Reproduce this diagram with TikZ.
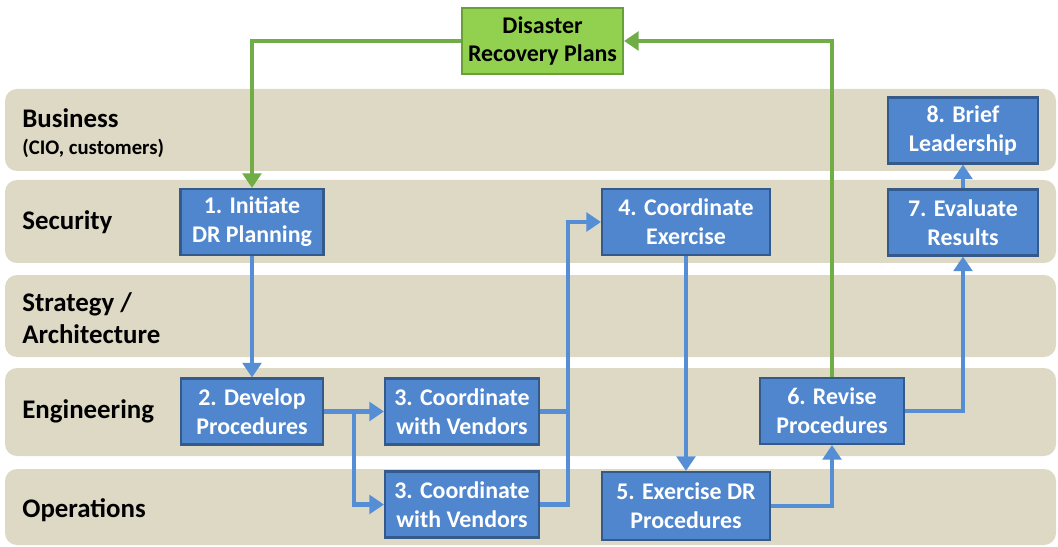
\documentclass[tikz,border=0pt]{standalone}
\usepackage{fontspec}
\setmainfont{Carlito}
\usetikzlibrary{arrows.meta}

\definecolor{lanefill}{RGB}{221,217,196}
\definecolor{stepblue}{RGB}{79,134,206}
\definecolor{stepedge}{RGB}{52,90,140}
\definecolor{flowblue}{RGB}{85,142,213}
\definecolor{planfill}{RGB}{146,208,80}
\definecolor{planedge}{RGB}{104,160,55}
\definecolor{flowgreen}{RGB}{112,173,71}

\begin{document}
\begin{tikzpicture}[x=0.02cm, y=-0.02cm,
    lane/.style = {fill=lanefill, rounded corners=0.24cm},
    lbl/.style = {anchor=west, align=left, inner sep=0pt, font=\bfseries\fontsize{15.3}{18}\selectfont},
    main/.style = {draw=stepedge, line width=1.2pt, fill=stepblue, text=white, align=center,
                   minimum height=1.32cm, inner sep=0pt, font=\bfseries\fontsize{13.6}{16.4}\selectfont},
    plan/.style = {main, draw=planedge, fill=planfill, text=black},
    link/.style = {draw=flowblue, line width=2.3pt, -{Triangle[width=0.37cm,length=0.29cm]}},
    back/.style = {link, draw=flowgreen}]
    \useasboundingbox[fill=white] (0,0) rectangle (1058,547);

    \fill[lane] (5,89)  rectangle (1056,171);
    \fill[lane] (5,180) rectangle (1056,263);
    \fill[lane] (5,275) rectangle (1056,357);
    \fill[lane] (5,368) rectangle (1056,456);
    \fill[lane] (5,469) rectangle (1056,545);

    \node[lbl] (business)    at (22,133) {Business\\[-2.5pt]{\fontsize{11.8}{14}\selectfont(CIO, customers)}};
    \node[lbl] (security)    at (22,222) {Security};
    \node[lbl] (strategy)    at (22,318) {Strategy /\\Architecture};
    \node[lbl] (engineering) at (22,411) {Engineering};
    \node[lbl] (operations)  at (22,510) {Operations};

    \node[plan, minimum width=3.22cm] (drp) at (542.5,41) {Disaster\\Recovery Plans};
    \node[main, minimum width=2.86cm] (1)  at (252,222) {1. Initiate\\DR Planning};
    \node[main, minimum width=2.84cm] (2)  at (252,411.5) {2. Develop\\Procedures};
    \node[main, minimum width=3.08cm] (3a) at (462,411.5) {3. Coordinate\\with Vendors};
    \node[main, minimum width=3.08cm] (3b) at (462,504.5) {3. Coordinate\\with Vendors};
    \node[main, minimum width=3.36cm] (4)  at (686,222) {4. Coordinate\\Exercise};
    \node[main, minimum width=3.36cm, minimum height=1.36cm] (5) at (686,506) {5. Exercise DR\\Procedures};
    \node[main, minimum width=2.88cm] (6)  at (832,411) {6. Revise\\Procedures};
    \node[main, minimum width=3.0cm]  (7)  at (963,222.5) {7. Evaluate\\Results};
    \node[main, minimum width=3.0cm]  (8)  at (963,130.5) {8. Brief\\Leadership};

    \coordinate (split) at (354,411.5);
    \coordinate (join)  at (568,222);

    \draw[back] (drp.west) -| (1.north);
    \draw[back] (6.north) |- (drp.east);
    \draw[link] (1) -- (2);
    \draw[link] (2) -- (3a);
    \draw[link] (split) |- (3b.west);
    \draw[link, -] (3b.east) -| (join);
    \draw[link] (3a.east) -| (join) -- (4.west);
    \draw[link] (4) -- (5);
    \draw[link] (5.east) -| (6.south);
    \draw[link] (6.east) -| (7.south);
    \draw[link] (7) -- (8);
\end{tikzpicture}
\end{document}
